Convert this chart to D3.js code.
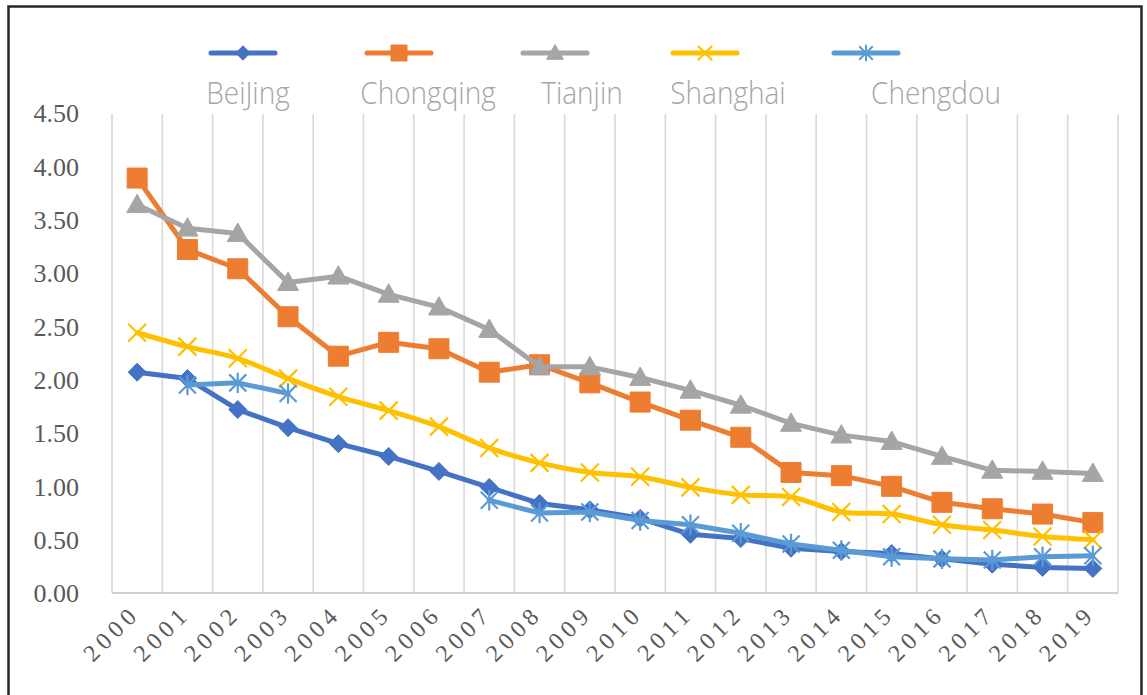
<!DOCTYPE html>
<html>
<head>
<meta charset="utf-8">
<script src="https://cdn.jsdelivr.net/npm/d3@7"></script>
<style>
  html, body { margin: 0; padding: 0; background: #fff; }
  svg { display: block; }
</style>
</head>
<body>
<svg id="chart" width="1147" height="695"></svg>
<script>
// ---------------- data ----------------
const years = ["2000","2001","2002","2003","2004","2005","2006","2007","2008","2009",
               "2010","2011","2012","2013","2014","2015","2016","2017","2018","2019"];
const seriesNames = ["BeiJing","Chongqing","Tianjin","Shanghai","Chengdou"];
const beijing   = [2.07,2.01,1.72,1.55,1.40,1.28,1.14,0.99,0.84,0.78,0.70,0.55,0.51,0.42,0.39,0.37,0.32,0.27,0.24,0.23];
const chongqing = [3.89,3.22,3.04,2.59,2.22,2.35,2.29,2.07,2.14,1.97,1.79,1.62,1.46,1.13,1.10,1.00,0.85,0.79,0.74,0.66];
const tianjin   = [3.64,3.42,3.37,2.91,2.97,2.80,2.68,2.47,2.12,2.12,2.02,1.90,1.76,1.59,1.48,1.42,1.28,1.15,1.14,1.12];
const shanghai  = [2.44,2.31,2.20,2.01,1.84,1.71,1.56,1.36,1.22,1.13,1.09,0.99,0.92,0.90,0.76,0.74,0.64,0.59,0.53,0.50];
const chengdou  = [null,1.95,1.97,1.87,null,null,null,0.87,0.75,0.76,0.68,0.64,0.56,0.46,0.40,0.34,0.32,0.31,0.34,0.35];
const yTicks = [0,0.5,1,1.5,2,2.5,3,3.5,4,4.5];

// ---------------- styles / layout ----------------
const colors  = ["#4472C4","#ED7D31","#A5A5A5","#FFC000","#5B9BD5"];
const markers = ["diamond","square","triangle","x","asterisk"];
const seriesData = [beijing, chongqing, tianjin, shanghai, chengdou];
const smooth = [false,false,false,true,false];
const SERIF = "Liberation Serif, DejaVu Serif, serif";
const SANS = "Open Sans, Noto Sans, sans-serif";

const svg = d3.select("#chart");
const W = 1147, H = 695;
const plot = {left:112, right:1118, top:113, bottom:593};

const x = d3.scaleBand().domain(years).range([plot.left, plot.right]).paddingInner(0).paddingOuter(0);
const y = d3.scaleLinear().domain([0,4.5]).range([plot.bottom, plot.top]);
const cx = d => x(d) + x.bandwidth()/2;

// outer frame
svg.append("path")
  .attr("d", `M8.5,${H} V6.5 H1141.5 V${H}`)
  .attr("fill","none").attr("stroke","#262626").attr("stroke-width",2.5);

// vertical gridlines at category boundaries
const bounds = years.map(d => x(d)).concat([plot.right]);
svg.append("g").selectAll("line").data(bounds).join("line")
  .attr("x1", d=>d).attr("x2", d=>d)
  .attr("y1", plot.top+1).attr("y2", plot.bottom)
  .attr("stroke","#d9d9d9").attr("stroke-width",1.6);

// bottom axis line
svg.append("line")
  .attr("x1", plot.left).attr("x2", plot.right)
  .attr("y1", plot.bottom).attr("y2", plot.bottom)
  .attr("stroke","#d0d0d0").attr("stroke-width",2);

// y axis labels
const yAxis = d3.axisLeft(y).tickValues(yTicks).tickFormat(d3.format(".2f")).tickSize(0).tickPadding(33);
const yg = svg.append("g").attr("transform", `translate(${plot.left},0)`).call(yAxis);
yg.select(".domain").remove();
yg.attr("font-family", SERIF).attr("font-size", 26);
yg.selectAll("text")
  .style("font-family", SERIF)
  .style("font-size", "26px").attr("fill","#595959").attr("dy","0.34em");

// x axis labels (rotated)
const xg = svg.append("g");
xg.selectAll("text").data(years).join("text")
  .attr("transform", d => `translate(${cx(d)+4},${plot.bottom+22}) rotate(-45)`)
  .attr("text-anchor","end")
  .style("font-family", SERIF)
  .style("font-size", "24px").attr("letter-spacing", "5px")
  .attr("fill","#595959")
  .text(d => d);

// marker path generator
function markerPath(type, r) {
  switch (type) {
    case "diamond":  return `M0,${-r}L${r},0L0,${r}L${-r},0Z`;
    case "square":   return `M${-r},${-r}H${r}V${r}H${-r}Z`;
    case "triangle": return `M0,${-r}L${r},${r*0.75}L${-r},${r*0.75}Z`;
    case "x":        return `M${-r},${-r}L${r},${r}M${-r},${r}L${r},${-r}`;
    case "asterisk": return `M${-r},${-r}L${r},${r}M${-r},${r}L${r},${-r}M0,${-r*1.2}L0,${r*1.2}`;
  }
}
const markerSize = {diamond:9, square:10, triangle:10.5, x:9, asterisk:8.5};
const filled = t => (t==="diamond"||t==="square"||t==="triangle");

// series
seriesData.forEach((vals, i) => {
  const pts = years.map((yr, j) => ({yr, v: vals[j]}));
  const line = d3.line()
    .defined(d => d.v !== null)
    .x(d => cx(d.yr)).y(d => y(d.v))
    .curve(smooth[i] ? d3.curveCatmullRom.alpha(0.5) : d3.curveLinear);
  const g = svg.append("g");
  g.append("path").attr("d", line(pts))
    .attr("fill","none").attr("stroke", colors[i]).attr("stroke-width", 5)
    .attr("stroke-linejoin","round").attr("stroke-linecap","round");
  const t = markers[i];
  g.selectAll(".m").data(pts.filter(d => d.v !== null)).join("path")
    .attr("transform", d => `translate(${cx(d.yr)},${y(d.v)})`)
    .attr("d", markerPath(t, markerSize[t]))
    .attr("fill", filled(t) ? colors[i] : "none")
    .attr("stroke", colors[i])
    .attr("stroke-width", filled(t) ? 1 : 2.2);
});

// legend
const legendLineX = [243, 399, 555, 705, 866];
const legendTextX = [248, 428, 582, 728, 936];
const legendY = 53, legendTextY = 104;
const lg = svg.append("g");
seriesNames.forEach((name, i) => {
  const t = markers[i];
  lg.append("line")
    .attr("x1", legendLineX[i]-32).attr("x2", legendLineX[i]+32)
    .attr("y1", legendY).attr("y2", legendY)
    .attr("stroke", colors[i]).attr("stroke-width", 5).attr("stroke-linecap","round");
  lg.append("path")
    .attr("transform", `translate(${legendLineX[i]},${legendY})`)
    .attr("d", markerPath(t, markerSize[t]*0.8))
    .attr("fill", filled(t) ? colors[i] : "none")
    .attr("stroke", colors[i])
    .attr("stroke-width", filled(t) ? 1 : 2);
  lg.append("text")
    .attr("transform", `translate(${legendTextX[i]},${legendTextY}) scale(1,1.12)`)
    .attr("text-anchor","middle")
    .style("font-family", SANS)
    .style("font-weight", 300)
    .style("font-size", "28px")
    .attr("fill","#a6a6a6")
    .text(name);
});
</script>
</body>
</html>
